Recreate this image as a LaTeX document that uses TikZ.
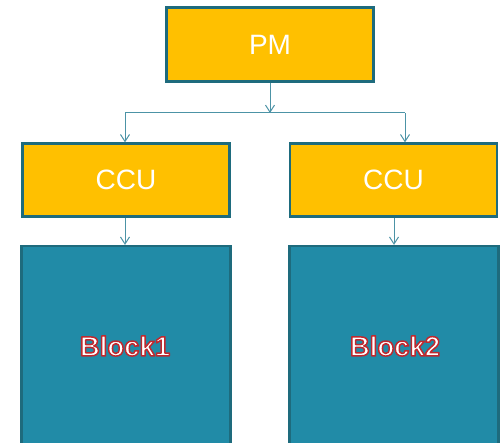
\documentclass[tikz,border=0pt]{standalone}
\usepackage{fontspec}
\setmainfont{Liberation Sans}
\usetikzlibrary{arrows.meta}
\definecolor{ccuyellow}{HTML}{FFC000}
\definecolor{edgeteal}{HTML}{1E6B7D}
\definecolor{blockfill}{HTML}{218BA7}
\definecolor{linecol}{HTML}{4C93A6}
\newcommand{\outlinetext}[1]{%
  \color{white}\special{pdf:literal direct 2 Tr 1.5 w 1 j 0.753 0.157 0.180 RG}#1\special{pdf:literal direct 0 Tr 0.4 w 0 j}}
\begin{document}
\begin{tikzpicture}[x=1pt,y=-1pt,
  yellowbox/.style={draw=edgeteal, line width=2.2pt, fill=ccuyellow, text=white, font=\fontsize{28}{30}\selectfont, inner sep=0pt},
  bluebox/.style={draw=edgeteal, line width=2.2pt, fill=blockfill, inner sep=0pt},
  blocklabel/.style={font=\fontsize{27.5}{29}\selectfont\bfseries, inner sep=0pt},
  conn/.style={draw=linecol, line width=1pt, -{Straight Barb[length=7pt,width=9pt]}}]
\useasboundingbox (0,0) rectangle (500,443);
\node[yellowbox, minimum width=207pt, minimum height=74pt] (pm) at (270,44.5) {PM};
\node[yellowbox, minimum width=207pt, minimum height=73pt] (ccu1) at (126,180) {CCU};
\node[yellowbox, minimum width=207pt, minimum height=73pt] (ccu2) at (393.5,180) {CCU};
\node[bluebox, minimum width=209pt, minimum height=200pt] (b1) at (126,346) {};
\node[bluebox, minimum width=209pt, minimum height=200pt] (b2) at (394,346) {};
\coordinate (split) at (270,113);
\coordinate (splitl) at (125,113);
\coordinate (splitr) at (405,113);
\draw[conn] (pm.south) -- (split);
\draw[draw=linecol, line width=1pt] (splitl) -- (splitr);
\draw[conn] (splitl) -- (splitl |- ccu1.north);
\draw[conn] (splitr) -- (splitr |- ccu2.north);
\draw[conn] (ccu1.south -| 125,0) -- (b1.north -| 125,0);
\draw[conn] (ccu2.south -| 394,0) -- (b2.north -| 394,0);
\node[blocklabel] (t1) at (125,346) {\outlinetext{Block1}};
\node[blocklabel] (t2) at (395,346) {\outlinetext{Block2}};
\end{tikzpicture}
\end{document}
